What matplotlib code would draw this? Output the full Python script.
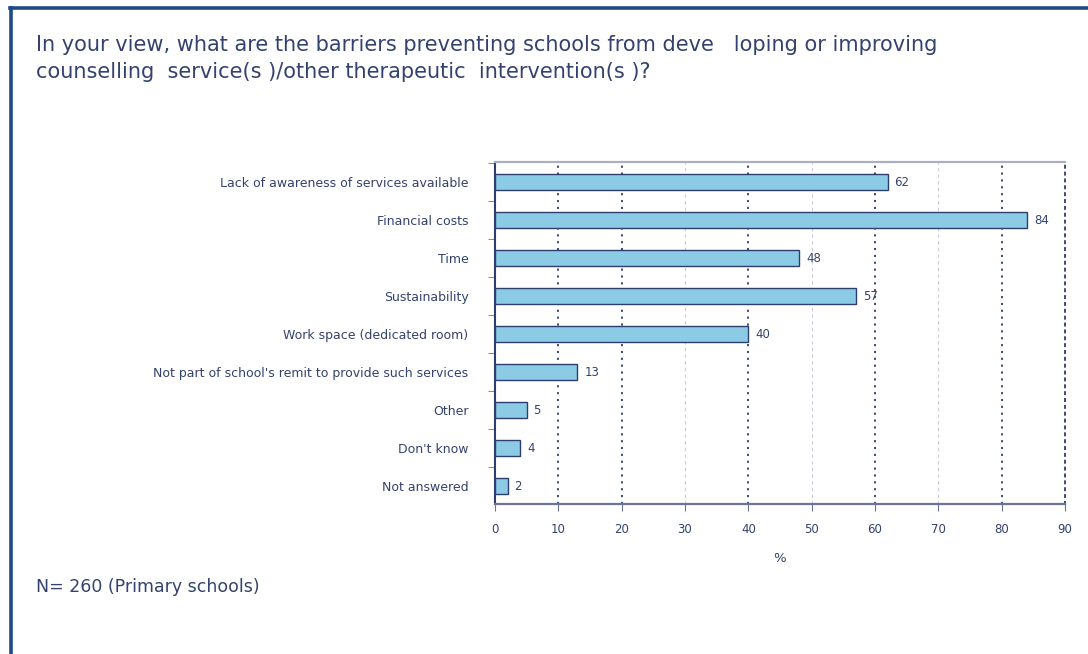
import matplotlib
matplotlib.use("Agg")
import matplotlib.pyplot as plt
from matplotlib.ticker import FixedLocator

categories = [
    "Lack of awareness of services available",
    "Financial costs",
    "Time",
    "Sustainability",
    "Work space (dedicated room)",
    "Not part of school's remit to provide such services",
    "Other",
    "Don't know",
    "Not answered",
]
values = [62, 84, 48, 57, 40, 13, 5, 4, 2]
xticks = [0, 10, 20, 30, 40, 50, 60, 70, 80, 90]
dark_grid = [10, 20, 40, 60, 80]
light_grid = [30, 50, 70]

title = ("In your view, what are the barriers preventing schools from deve   loping or improving\n"
         "counselling  service(s )/other therapeutic  intervention(s )?")
note = "N= 260 (Primary schools)"

navy = "#2e3d6b"
text_col = "#34426f"
bar_fill = "#8ccbe6"

fig = plt.figure(figsize=(10.88, 6.54), dpi=100)
fig.patch.set_facecolor("white")

# frame lines (top and left)
fig.add_artist(plt.Line2D([0.0095, 1.0], [0.9875, 0.9875], transform=fig.transFigure,
                          color="#1f4a87", lw=2.6))
fig.add_artist(plt.Line2D([0.0105, 0.0105], [0.0, 0.9875], transform=fig.transFigure,
                          color="#1f4a87", lw=2.6))

fig.text(36 / 1088, 1 - 58.5 / 654, title, fontsize=15, color=text_col,
         family="DejaVu Sans", va="center", ha="left", linespacing=1.42)
fig.text(36 / 1088, 1 - 587 / 654, note, fontsize=12.5, color=text_col,
         family="DejaVu Sans", va="center", ha="left")

ax = fig.add_axes([495 / 1088, 1 - 504 / 654, (1065 - 495) / 1088, (504 - 162) / 654])
y = list(range(len(categories)))
ax.barh(y, values, height=0.42, color=bar_fill, edgecolor=navy, linewidth=1.0, zorder=3)
ax.set_xlim(0, 90)
ax.set_ylim(8.47, -0.53)

for gx in dark_grid:
    ax.axvline(gx, color=navy, lw=1.3, ls=(0, (1.2, 2.6)), zorder=1)
for gx in light_grid:
    ax.axvline(gx, color="#c8ccd8", lw=0.8, ls=(0, (3, 3)), zorder=1)

for yi, v in zip(y, values):
    ax.annotate(str(v), (v, yi), xytext=(5, 0), textcoords="offset points",
                va="center", ha="left", fontsize=8.5, color=text_col, zorder=4)

ax.set_xticks(xticks)
ax.set_xticklabels([str(t) for t in xticks], fontsize=8.5, color=text_col)
ax.tick_params(axis="x", direction="out", length=5, color="#6b7494", pad=8.5)

ax.set_yticks(y)
ax.set_yticklabels(categories, fontsize=9, color=text_col)
ax.tick_params(axis="y", which="major", length=0, pad=19)
ax.yaxis.set_minor_locator(FixedLocator([i - 0.5 for i in range(len(categories) + 1)]))
ax.tick_params(axis="y", which="minor", direction="out", length=5, color="#6b7494")

ax.spines["left"].set_color(navy)
ax.spines["left"].set_linewidth(1.5)
ax.spines["bottom"].set_color("#6b7494")
ax.spines["bottom"].set_linewidth(1.6)
ax.spines["top"].set_color("#a9afc4")
ax.spines["top"].set_linewidth(1.6)
ax.spines["right"].set_color(navy)
ax.spines["right"].set_linewidth(1.3)
ax.spines["right"].set_linestyle((0, (1.2, 2.6)))

ax.set_xlabel("%", fontsize=9.5, color=text_col, labelpad=12)

fig.savefig("out.png", dpi=100, facecolor="white")
